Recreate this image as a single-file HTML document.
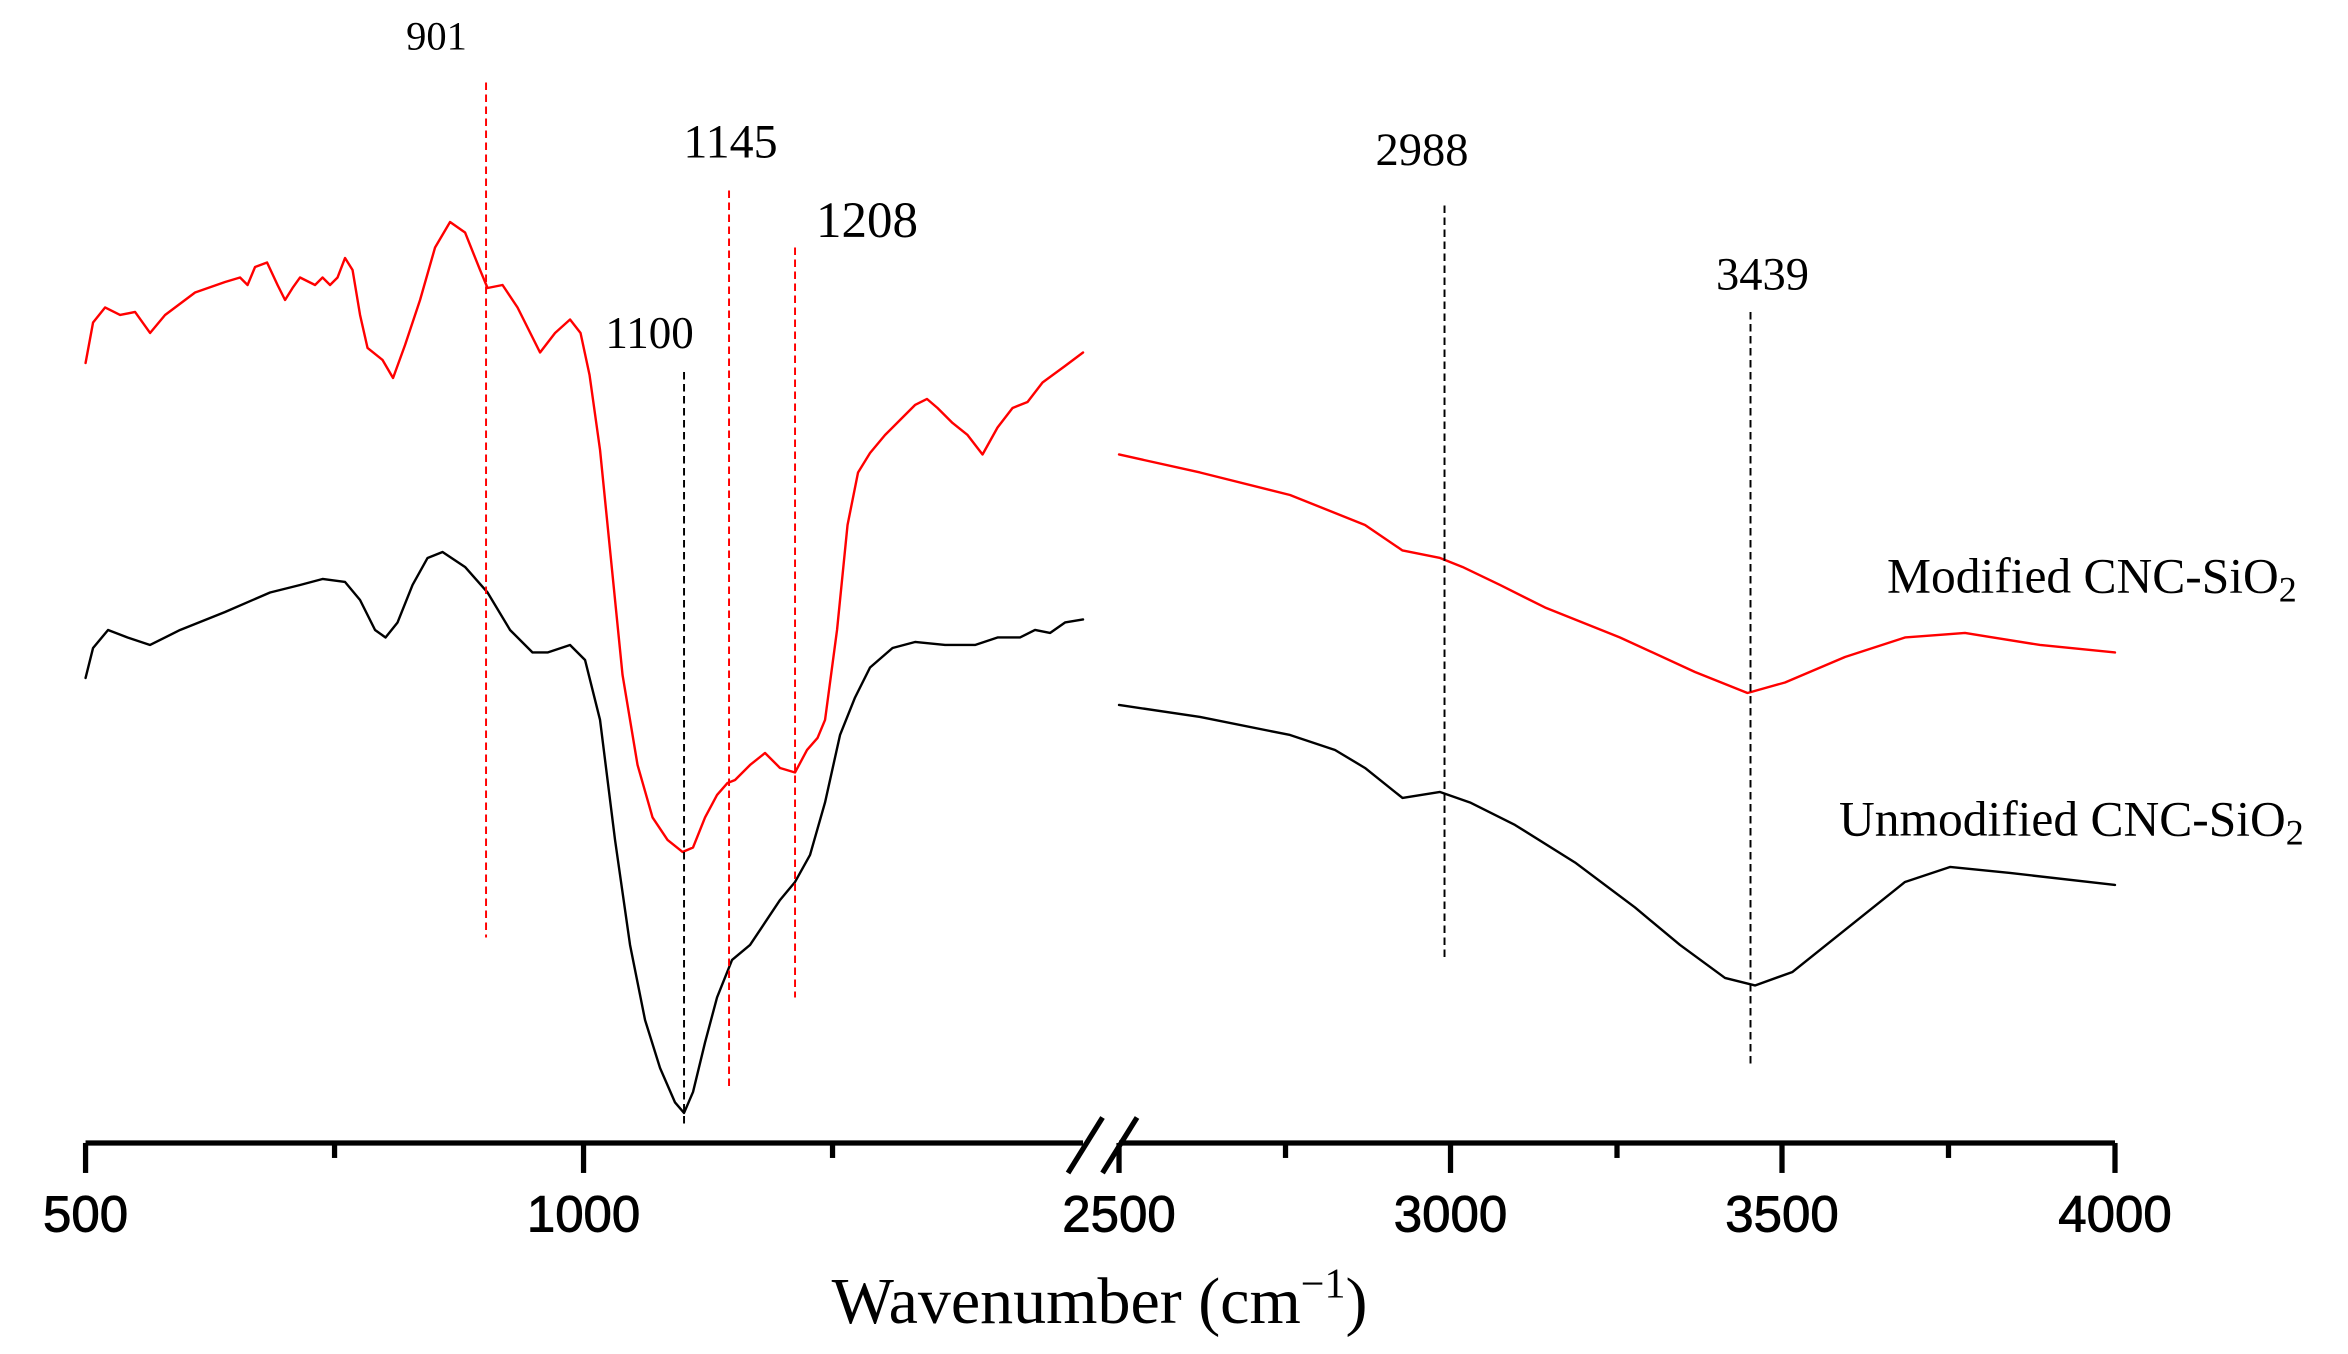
<!DOCTYPE html>
<html><head><meta charset="utf-8"><style>html,body{margin:0;padding:0;background:#fff}svg{display:block}</style></head><body>
<svg width="2348" height="1354" viewBox="0 0 1565.3 902.7" xmlns="http://www.w3.org/2000/svg">
<rect width="1565.3" height="902.7" fill="#fff"/>
<g fill="none" stroke-linejoin="round" stroke-linecap="round" stroke-width="1.6">
<polyline stroke="#ff0000" points="57,242 62,215 70,205 80,210 90,208 100,222 110,210 130,195 150,188 160,185 165,190 170,178 178,175 185,190 190,200 195,192 200,185 210,190 215,185 220,190 225,185 230,172 235,180 240,210 245,232 255,240 262,252 270,230 280,200 290,165 300,148 310,155 320,180 325,192 335,190 345,205 355,225 360,235 370,222 380,213 387,222 393,250 400,300 408,380 415,450 425,510 435,545 445,560 455,568 462,565 470,545 478,530 485,522 490,520 500,510 510,502 520,512 530,515 538,500 545,492 550,480 558,420 565,350 572,315 580,302 590,290 600,280 610,270 618,266 625,272 635,282 645,290 655,303 665,285 675,272 685,268 695,255 710,244 722,235"/>
<polyline stroke="#ff0000" points="746,303 800,315 860,330 910,350 935,367 960,372 975,378 1000,390 1030,405 1080,425 1130,448 1165,462 1190,455 1230,438 1270,425 1310,422 1360,430 1410,435"/>
<polyline stroke="#000" points="57,452 62,432 72,420 85,425 100,430 120,420 150,408 180,395 200,390 215,386 230,388 240,400 250,420 257,425 265,415 275,390 285,372 295,368 310,378 325,395 340,420 355,435 365,435 380,430 390,440 400,480 410,560 420,630 430,680 440,712 450,735 456,742 462,728 470,695 478,665 488,640 500,630 510,615 520,600 530,588 540,570 550,535 560,490 570,465 580,445 595,432 610,428 630,430 650,430 665,425 680,425 690,420 700,422 710,415 722,413"/>
<polyline stroke="#000" points="746,470 800,478 860,490 890,500 910,512 935,532 960,528 980,535 1010,550 1050,575 1090,605 1120,630 1150,652 1170,657 1195,648 1230,620 1270,588 1300,578 1340,582 1410,590"/>
</g>
<g stroke-width="1.3" stroke-dasharray="5,3">
<line x1="324" y1="55" x2="324" y2="625" stroke="#ff0000"/>
<line x1="486" y1="127" x2="486" y2="727" stroke="#ff0000"/>
<line x1="530" y1="165" x2="530" y2="665" stroke="#ff0000"/>
<line x1="456" y1="248" x2="456" y2="750" stroke="#000"/>
<line x1="963" y1="137" x2="963" y2="638" stroke="#000"/>
<line x1="1167" y1="208" x2="1167" y2="710" stroke="#000"/>
</g>
<g stroke="#000" stroke-width="3.5">
<line x1="57" y1="762" x2="722" y2="762"/>
<line x1="746" y1="762" x2="1410" y2="762"/>
<line x1="57" y1="762" x2="57" y2="782"/><line x1="389" y1="762" x2="389" y2="782"/>
<line x1="223" y1="762" x2="223" y2="772"/><line x1="555" y1="762" x2="555" y2="772"/>
<line x1="746" y1="762" x2="746" y2="782"/><line x1="967" y1="762" x2="967" y2="782"/><line x1="1188" y1="762" x2="1188" y2="782"/><line x1="1410" y1="762" x2="1410" y2="782"/>
<line x1="857" y1="762" x2="857" y2="772"/><line x1="1078" y1="762" x2="1078" y2="772"/><line x1="1299" y1="762" x2="1299" y2="772"/>
<line x1="712" y1="782" x2="735" y2="745"/><line x1="735" y1="782" x2="758" y2="745"/>
</g>
<g font-family="Liberation Sans, sans-serif" font-size="34" text-anchor="middle" fill="#000" stroke="#000" stroke-width="0.6">
<text x="57" y="821">500</text><text x="389" y="821">1000</text><text x="746" y="821">2500</text><text x="967" y="821">3000</text><text x="1188" y="821">3500</text><text x="1410" y="821">4000</text>
</g>
<g font-family="Liberation Serif, serif" fill="#000" text-anchor="middle">
<text x="291" y="33" font-size="27">901</text>
<text x="487" y="105" font-size="32">1145</text>
<text x="578" y="158" font-size="34">1208</text>
<text x="433" y="232" font-size="30">1100</text>
<text x="948" y="110" font-size="31">2988</text>
<text x="1175" y="193" font-size="31">3439</text>
<text x="733" y="882" font-size="44">Wavenumber (cm<tspan font-size="28" dy="-17">−1</tspan><tspan dy="17">)</tspan></text>
</g>
<g font-family="Liberation Serif, serif" fill="#000" font-size="33">
<text x="1258" y="395">Modified CNC-SiO<tspan font-size="24" dy="6">2</tspan></text>
<text x="1226" y="557">Unmodified CNC-SiO<tspan font-size="24" dy="6">2</tspan></text>
</g>
</svg>
</body></html>
